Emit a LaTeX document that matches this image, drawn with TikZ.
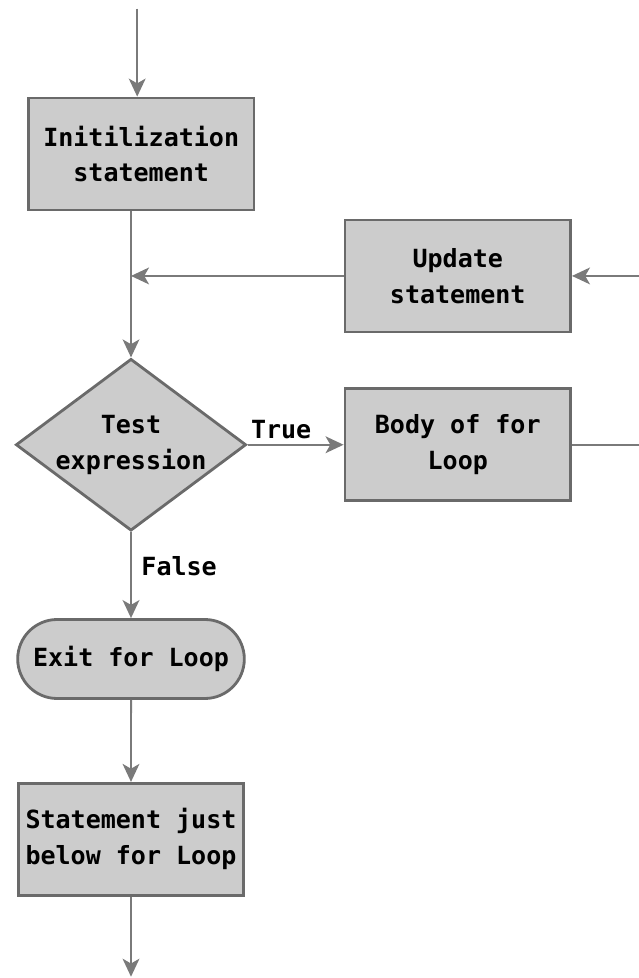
\documentclass[tikz,border=0pt]{standalone}
\usepackage{fontspec}
\newfontfamily\flowfont{DejaVu Sans Mono Bold}
\usetikzlibrary{positioning,shapes.geometric,shapes.misc,arrows.meta}
\definecolor{boxfill}{HTML}{CCCCCC}
\definecolor{boxline}{HTML}{6A6A6A}
\definecolor{flowline}{HTML}{7A7A7A}
\begin{document}
\begin{tikzpicture}[->,>={Stealth[length=0.45cm,width=0.42cm,inset=0.12cm]},
  flow/.style={draw=flowline,line width=1.4pt},
  every edge/.style={flow},
  every node/.style={font=\flowfont\fontsize{17.8}{25.6}\selectfont,text=black},
  stepbox/.style={rectangle,draw=boxline,fill=boxfill,line width=2pt,align=center,
    minimum width=5.64cm,minimum height=2.8cm},
  decision/.style={diamond,draw=boxline,fill=boxfill,line width=2pt,align=center,
    aspect=1.34,inner sep=0pt,minimum width=5.65cm,minimum height=4.225cm},
  terminal/.style={rounded rectangle,draw=boxline,fill=boxfill,line width=2pt,
    minimum width=5.9cm,minimum height=1.975cm}]

  \useasboundingbox (0,0) rectangle (15.95,-24.45);

  \node [stepbox] (init) at (3.53,-3.85) {Initilization\\statement};
  \node [decision] (test) [below=3.65cm of init, xshift=-0.255cm] {Test\\expression};
  \node [stepbox] (body) [right=2.4cm of test] {Body of for\\Loop};
  \node [stepbox] (update) [above=1.35cm of body] {Update\\statement};
  \node [terminal] (exit) [below=2.15cm of test] {Exit for Loop};
  \node [stepbox] (after) [below=2.05cm of exit] {Statement just\\below for Loop};

  \coordinate [above=2.2cm of init, xshift=-0.1cm] (start);
  \coordinate [below=2.0cm of after] (finish);
  \coordinate [right=1.7cm of update] (loopin);
  \coordinate [right=1.7cm of body] (loopout);

  \draw[flow] (start) -- (start |- init.north);
  \draw[flow] (init.south -| test.north) -- (test.north);
  \draw[flow] (update.west) -- (update.west -| test.north);
  \draw[flow] (loopin) -- (update.east);
  \draw[flow,-] (body.east) -- (loopout);

  \path (test.east) edge node[above,pos=0.35]{True} (body.west);
  \path (test.south) edge node[right,pos=0.4,xshift=0.12cm]{False} (exit.north);
  \path (exit) edge (after);
  \path (after) edge (finish);
\end{tikzpicture}
\end{document}
